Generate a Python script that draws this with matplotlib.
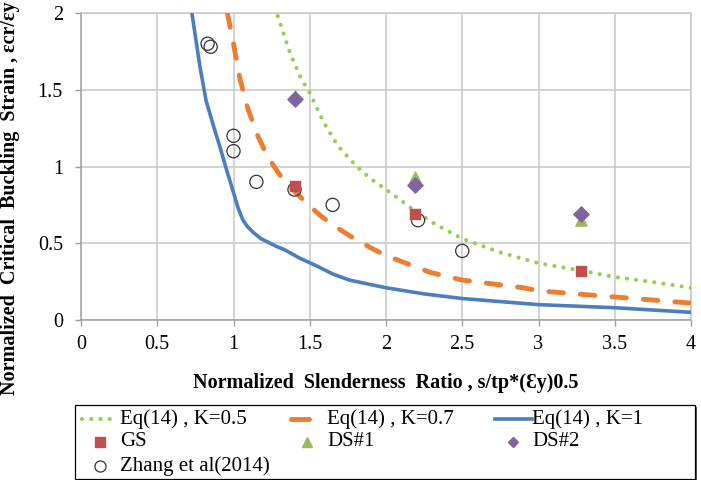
import matplotlib
matplotlib.use("Agg")
import matplotlib.pyplot as plt
from matplotlib.lines import Line2D
from matplotlib.patches import Rectangle

# ---- data ----
k05_x = [1.29, 1.37, 1.44, 1.50, 1.59, 1.68, 1.76, 1.83, 1.90, 2.00, 2.11, 2.19, 2.33, 2.50, 2.75, 3.00, 3.29, 3.50, 3.73, 4.00]
k05_y = [1.98, 1.74, 1.58, 1.48, 1.29, 1.14, 1.05, 0.98, 0.92, 0.85, 0.77, 0.71, 0.62, 0.53, 0.44, 0.37, 0.32, 0.28, 0.25, 0.21]

k07_x = [0.96, 1.00, 1.04, 1.09, 1.15, 1.22, 1.30, 1.39, 1.48, 1.57, 1.65, 1.76, 1.90, 2.00, 2.29, 2.50, 2.90, 3.00, 3.50, 4.00]
k07_y = [2.00, 1.80, 1.58, 1.39, 1.22, 1.07, 0.95, 0.85, 0.76, 0.68, 0.62, 0.55, 0.47, 0.42, 0.31, 0.26, 0.21, 0.19, 0.15, 0.11]

k1_x = [0.727, 0.78, 0.82, 0.87, 0.91, 0.96, 1.00, 1.03, 1.06, 1.09, 1.13, 1.18, 1.22, 1.28, 1.33, 1.44, 1.55, 1.65, 1.76, 2.00, 2.25, 2.50, 2.75, 3.00, 3.50, 4.00]
k1_y = [2.00, 1.65, 1.43, 1.26, 1.13, 0.96, 0.83, 0.73, 0.655, 0.61, 0.57, 0.53, 0.51, 0.48, 0.46, 0.40, 0.35, 0.30, 0.26, 0.21, 0.17, 0.14, 0.12, 0.10, 0.08, 0.05]

gs_x = [1.40, 2.19, 3.28]
gs_y = [0.87, 0.69, 0.32]

ds1_x = [1.40, 2.19, 3.28]
ds1_y = [1.46, 0.93, 0.65]

ds2_x = [1.40, 2.19, 3.28]
ds2_y = [1.44, 0.88, 0.69]

zhang_x = [0.83, 0.85, 1.00, 1.00, 1.15, 1.40, 1.65, 2.21, 2.50]
zhang_y = [1.80, 1.78, 1.20, 1.10, 0.90, 0.85, 0.75, 0.65, 0.45]

x_ticks = [0, 0.5, 1, 1.5, 2, 2.5, 3, 3.5, 4]
x_ticklabels = ["0", "0.5", "1", "1.5", "2", "2.5", "3", "3.5", "4"]
y_ticks = [0, 0.5, 1, 1.5, 2]
y_ticklabels = ["0", "0.5", "1", "1.5", "2"]

series_labels = ['Eq(14) , K=0.5', 'Eq(14) , K=0.7', 'Eq(14) , K=1',
                 'GS', 'DS#1', 'DS#2', 'Zhang et al(2014)']

plt.rcParams['font.family'] = ['Liberation Serif', 'DejaVu Serif']

W, H = 701, 480
fig = plt.figure(figsize=(W / 100, H / 100), dpi=100)
ax = fig.add_axes([81 / W, 1 - 320 / H, 610 / W, 307 / H])

GREEN = '#92D050'
ORANGE = '#ED7D31'
BLUE = '#4A7EC0'
RED = '#C0504D'
OLIVE = '#9BBB59'
PURPLE = '#8064A2'

DOT = (0, (0.01, 2.2))
DASH = (0, (3.0, 3.5))

ax.plot(k05_x, k05_y, color=GREEN, lw=3.0, linestyle=DOT, dash_capstyle='round', zorder=3)
ax.plot(k07_x, k07_y, color=ORANGE, lw=3.5, linestyle=DASH, dash_capstyle='round', zorder=3)
ax.plot(k1_x, k1_y, color=BLUE, lw=2.6, zorder=3, solid_joinstyle='round')

ax.scatter(zhang_x, zhang_y, s=90, facecolors='none', edgecolors='#333333',
           linewidths=0.9, zorder=4)
ax.scatter(ds1_x, ds1_y, s=65, marker='^', color=OLIVE, zorder=5)
ax.scatter(ds2_x, ds2_y, s=60, marker='D', color=PURPLE, zorder=6)
ax.scatter(gs_x, gs_y, s=52, marker='s', color=RED, zorder=7)

ax.set_xlim(0, 4)
ax.set_ylim(0, 2)
ax.set_xticks(x_ticks)
ax.set_xticklabels(x_ticklabels)
ax.set_yticks(y_ticks)
ax.set_yticklabels(y_ticklabels)
ax.tick_params(axis='both', labelsize=14.5, length=4, color='#A0A0A0', width=1)
ax.tick_params(axis='x', pad=7)
ax.tick_params(axis='y', pad=9)
ax.grid(True, color='#C8C8C8', linewidth=1.1)
ax.set_axisbelow(True)
for s in ax.spines.values():
    s.set_color('#C8C8C8')
    s.set_linewidth(1.1)
ax.spines['left'].set_color('#A0A0A0')
ax.spines['bottom'].set_color('#A0A0A0')

fig.text(386 / W, 1 - 383 / H, 'Normalized  Slenderness  Ratio , s/tp*(Ɛy)0.5',
         ha='center', va='center', fontsize=14.5, fontweight='bold')
fig.text(10 / W, 1 - 395 / H, 'Normalized  Critical  Buckling  Strain , εcr/εy',
         ha='center', va='bottom', rotation=90, fontsize=14.5, fontweight='bold')

# ---- legend (drawn in figure pixel coordinates) ----
def fx(px):
    return px / W


def fy(py):
    return 1 - py / H


tf = fig.transFigure
fig.add_artist(Rectangle((fx(77), fy(481)), fx(697) - fx(77), fy(407) - fy(481),
                         transform=tf, facecolor='#555555', edgecolor='none', zorder=1))
fig.add_artist(Rectangle((fx(75), fy(479)), fx(695) - fx(75), fy(405) - fy(479),
                         transform=tf, facecolor='white', edgecolor='black', lw=0.9, zorder=2))

rows = [419, 442, 466]
tcols = [120, 327, 532]
LFS = 15

fig.add_artist(Line2D([fx(82), fx(116)], [fy(rows[0])] * 2, transform=tf, color=GREEN, lw=3.0,
                      linestyle=DOT, dash_capstyle='round', zorder=3))
fig.add_artist(Line2D([fx(291), fx(309)], [fy(rows[0])] * 2, transform=tf, color=ORANGE, lw=3.5,
                      solid_capstyle='round', zorder=3))
fig.add_artist(Line2D([fx(495), fx(532)], [fy(rows[0])] * 2, transform=tf, color=BLUE, lw=2.6,
                      zorder=3))
fig.add_artist(Line2D([fx(100)], [fy(rows[1])], transform=tf, color=RED, marker='s',
                      markersize=6.5, linestyle='none', zorder=3))
fig.add_artist(Line2D([fx(307)], [fy(rows[1])], transform=tf, color=OLIVE, marker='^',
                      markersize=7, linestyle='none', zorder=3))
fig.add_artist(Line2D([fx(513)], [fy(rows[1])], transform=tf, color=PURPLE, marker='D',
                      markersize=5.5, linestyle='none', zorder=3))
fig.add_artist(Line2D([fx(100)], [fy(rows[2])], transform=tf, color='#333333', marker='o',
                      markerfacecolor='none', markeredgewidth=0.9, markersize=8,
                      linestyle='none', zorder=3))

positions = [(tcols[0], rows[0]), (tcols[1], rows[0]), (tcols[2], rows[0]),
             (tcols[0], rows[1]), (tcols[1], rows[1]), (tcols[2], rows[1]),
             (tcols[0], rows[2])]
for lab, (px, py) in zip(series_labels, positions):
    fig.text(fx(px), fy(py), lab, ha='left', va='center', fontsize=LFS, zorder=4)

fig.savefig('out.png', dpi=100)
